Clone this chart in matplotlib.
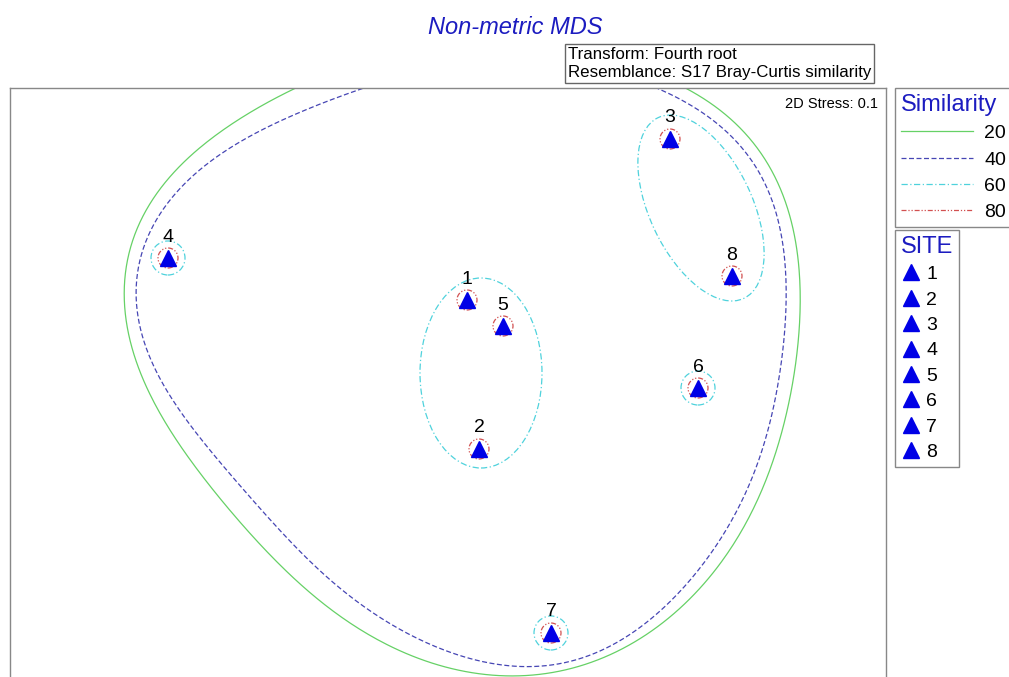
# Non-metric MDS plot with similarity contours
import numpy as np
import matplotlib
matplotlib.use('Agg')
import matplotlib.pyplot as plt
from matplotlib.lines import Line2D
from matplotlib.patches import Ellipse, Circle

plt.rcParams['font.family'] = ['Liberation Sans', 'DejaVu Sans']

# MDS coordinates of the sites
sites = ['1', '2', '3', '4', '5', '6', '7', '8']
mds_x = [0.076, 0.124, 0.888, -1.12, 0.22, 1.0, 0.412, 1.136]
mds_y = [0.32, -0.276, 0.964, 0.488, 0.216, -0.032, -1.012, 0.416]

# 20% similarity contour (traced)
sim20_x = [-0.392, -0.572, -0.86, -1.06, -1.192, -1.26, -1.292, -1.26, -1.124, -0.952,
           -0.724, -0.46, -0.112, 0.14, 0.408, 0.676, 0.94, 1.196, 1.34, 1.396,
           1.4, 1.368, 1.288, 1.156, 0.94, 0.608, 0.128]
sim20_y = [1.28, 1.168, 1.02, 0.872, 0.712, 0.58, 0.38, 0.12, -0.172, -0.428,
           -0.692, -0.92, -1.112, -1.18, -1.172, -1.092, -0.892, -0.56, -0.22, 0.112,
           0.38, 0.648, 0.86, 1.032, 1.16, 1.3, 1.34]

# 40% similarity contour (traced)
sim40_x = [-0.112, -0.332, -0.592, -0.86, -1.06, -1.18, -1.244, -1.252, -1.192, -1.06,
           -0.86, -0.592, -0.324, -0.152, 0.076, 0.276, 0.476, 0.74, 0.94, 1.116,
           1.22, 1.3, 1.34, 1.34, 1.3, 1.22, 1.088, 0.836, 0.528, 0.208]
sim40_y = [1.24, 1.168, 1.072, 0.928, 0.78, 0.62, 0.448, 0.32, 0.092, -0.12,
           -0.4, -0.692, -0.908, -1.016, -1.108, -1.152, -1.132, -1.012, -0.828, -0.56,
           -0.42, -0.152, 0.18, 0.448, 0.712, 0.888, 1.02, 1.16, 1.26, 1.28]

# 60% similarity groups: ellipses (center x, center y, width, height, angle) and single sites
grp60_cx = [0.132, 1.012]
grp60_cy = [0.028, 0.688]
grp60_w = [0.488, 0.8]
grp60_h = [0.76, 0.41]
grp60_ang = [0, -64.6]
single60 = ['4', '6', '7']

sim_levels = ['20', '40', '60', '80']
sim_colors = ['#66d166', '#4646b4', '#4fd2dc', '#d25050']
sim_styles = ['-', (0, (4, 2)), (0, (5, 2, 1, 2)), (0, (4, 1.5, 1, 1.5, 1, 1.5))]

title_blue = '#1c1cc0'
grey = '#888888'


def smooth_loop(xs, ys, k=6, n=600):
    # least squares fourier fit of the traced closed contour
    pts = np.column_stack([xs, ys])
    d = np.sqrt((np.diff(np.vstack([pts, pts[:1]]), axis=0) ** 2).sum(1))
    t = np.concatenate([[0], np.cumsum(d)[:-1]]) / d.sum()
    def basis(tt):
        cols = [np.ones_like(tt)]
        for j in range(1, k + 1):
            cols += [np.cos(2 * np.pi * j * tt), np.sin(2 * np.pi * j * tt)]
        return np.column_stack(cols)
    A = basis(t)
    cx = np.linalg.lstsq(A, pts[:, 0], rcond=None)[0]
    cy = np.linalg.lstsq(A, pts[:, 1], rcond=None)[0]
    B = basis(np.linspace(0, 1, n))
    return B @ cx, B @ cy


fig = plt.figure(figsize=(10.09, 6.77), dpi=100)
ax = fig.add_axes([10 / 1009, -3 / 677, 876 / 1009, 592 / 677])
ax.set_xlim(-1.752, 1.752)
ax.set_ylim(-1.2, 1.168)
ax.set_xticks([])
ax.set_yticks([])
for s in ax.spines.values():
    s.set_color(grey)
    s.set_linewidth(1.0)

lw = 0.9
gx, gy = smooth_loop(sim20_x, sim20_y)
ax.plot(gx, gy, color=sim_colors[0], ls=sim_styles[0], lw=lw)
bx, by = smooth_loop(sim40_x, sim40_y)
ax.plot(bx, by, color=sim_colors[1], ls=sim_styles[1], lw=lw)

for i in range(len(grp60_cx)):
    ax.add_patch(Ellipse((grp60_cx[i], grp60_cy[i]), grp60_w[i], grp60_h[i], angle=grp60_ang[i],
                         fill=False, ec=sim_colors[2], ls=sim_styles[2], lw=lw))
for i, s in enumerate(sites):
    if s in single60:
        ax.add_patch(Circle((mds_x[i], mds_y[i]), 0.068, fill=False, ec=sim_colors[2],
                            ls=sim_styles[2], lw=lw))
    ax.add_patch(Circle((mds_x[i], mds_y[i]), 0.04, fill=False, ec=sim_colors[3],
                        ls=sim_styles[3], lw=lw))

ax.plot(mds_x, mds_y, ls='none', marker='^', ms=11, color='#0000e6', mec='#0000e6', zorder=5)
for i, s in enumerate(sites):
    ax.annotate(s, (mds_x[i], mds_y[i]), xytext=(0, 9), textcoords='offset points',
                ha='center', va='bottom', fontsize=14, color='black')

ax.text(0.991, 0.973, '2D Stress: 0.1', transform=ax.transAxes, ha='right', va='center', fontsize=10.5)

fig.text(515 / 1009, 1 - 27 / 677, 'Non-metric MDS', ha='center', va='center', fontsize=17,
         style='italic', color=title_blue)
fig.text(568 / 1009, 1 - 63.5 / 677, 'Transform: Fourth root\nResemblance: S17 Bray-Curtis similarity',
         ha='left', va='center', fontsize=12.2, linespacing=1.3,
         bbox=dict(boxstyle='square,pad=0.15', fc='white', ec='#666666', lw=1.0))

sim_handles = [Line2D([], [], color=c, ls=l, lw=lw) for c, l in zip(sim_colors, sim_styles)]
leg1 = fig.legend(sim_handles, sim_levels, loc='upper left', bbox_to_anchor=(895 / 1009, 1 - 88 / 677),
                  title='Similarity', fontsize=14, title_fontsize=17, handlelength=3.7,
                  handletextpad=0.6, labelspacing=0.45, borderpad=0.3, borderaxespad=0,
                  fancybox=False, edgecolor=grey, framealpha=1, alignment='left')
leg1.get_title().set_color(title_blue)
leg1.get_frame().set_linewidth(1.0)

site_handles = [Line2D([], [], ls='none', marker='^', ms=11, color='#0000e6') for s in sites]
leg2 = fig.legend(site_handles, sites, loc='upper left', bbox_to_anchor=(895 / 1009, 1 - 230 / 677),
                  title='SITE', fontsize=14, title_fontsize=17, handlelength=1.0,
                  handletextpad=0.3, labelspacing=0.4, borderpad=0.3, borderaxespad=0,
                  fancybox=False, edgecolor=grey, framealpha=1, alignment='left')
leg2.get_title().set_color(title_blue)
leg2.get_frame().set_linewidth(1.0)

fig.savefig('out.png', dpi=100)
